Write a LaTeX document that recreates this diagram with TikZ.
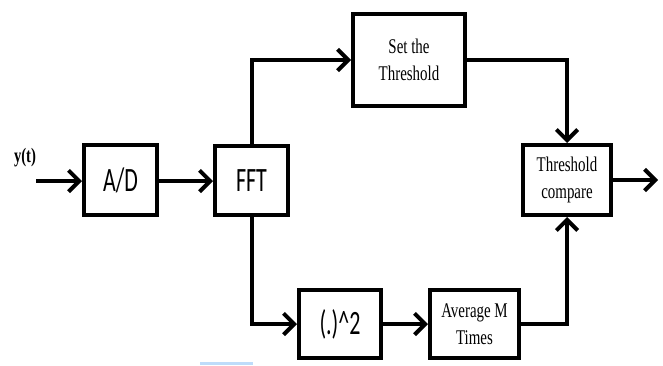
\documentclass[tikz,border=0pt]{standalone}
\usepackage{graphicx}
\usepackage{fontspec}
\setmainfont{Liberation Serif}
\newfontfamily\sansf{Carlito}
\usetikzlibrary{arrows.meta}
\newcommand\vstS[1]{\scalebox{1}[1.55]{#1}}
\newcommand\vstR[1]{\scalebox{1}[1.4]{#1}}
\definecolor{selblue}{RGB}{190,220,250}
\tikzset{
  blk/.style={draw, line width=3pt, fill=white, inner sep=0pt, align=center},
  sansblk/.style={blk, font=\sansf\fontsize{16.5}{20}\selectfont},
  serifblk/.style={blk, font=\fontsize{11.2}{20.25}\selectfont},
  conn/.style={line width=3pt, -{Straight Barb[length=8pt,width=16pt,line width=3pt]}},
  plain/.style={line width=3pt}
}
\begin{document}
\begin{tikzpicture}[x=0.75pt,y=-0.75pt]
\useasboundingbox (0,0) rectangle (663,365);
\fill[selblue] (200,362) rectangle (253,365);
\node[sansblk, minimum width=73*0.75pt, minimum height=70*0.75pt] (ad) at (120.5,180) {\vstS{A/D}};
\node[sansblk, minimum width=73*0.75pt, minimum height=69*0.75pt] (fft) at (251.5,180.5) {\vstS{FFT}};
\node[serifblk, minimum width=112*0.75pt, minimum height=92*0.75pt] (set) at (409,60) {\vstR{Set the}\\\vstR{Threshold}};
\node[serifblk, minimum width=88*0.75pt, minimum height=70*0.75pt] (cmp) at (567,180) {\vstR{Threshold}\\\vstR{compare}};
\node[sansblk, minimum width=82*0.75pt, minimum height=68*0.75pt] (sq) at (340,324) {\vstS{(.)\textasciicircum 2}};
\node[serifblk, minimum width=89*0.75pt, minimum height=68*0.75pt] (avg) at (474.5,324) {\vstR{Average M}\\\vstR{Times}};
\node[font=\bfseries\fontsize{11}{13}\selectfont, inner sep=0pt] (yt) at (25,158) {\vstR{y(t)}};
\coordinate (in) at (36,181);
\coordinate (out) at (658,180);
\draw[conn] (in) -- (ad.west |- in);
\draw[conn] (ad.east |- in) -- (fft.west |- in);
\draw[conn] (fft.north) |- (set.west);
\draw[conn] (set.east) -| (cmp.north);
\draw[conn] (fft.south) |- (sq.west);
\draw[conn] (sq.east) -- (avg.west);
\draw[conn] (avg.east) -| (cmp.south);
\draw[conn] (cmp.east) -- (out);
\end{tikzpicture}
\end{document}
